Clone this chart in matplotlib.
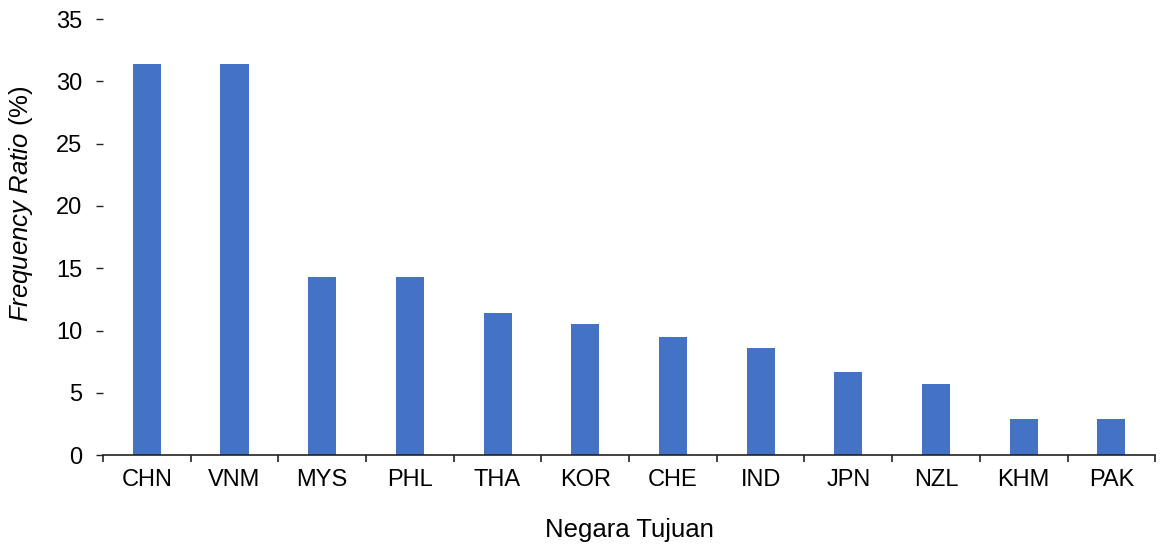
import matplotlib.pyplot as plt
import numpy as np

countries = ["CHN", "VNM", "MYS", "PHL", "THA", "KOR", "CHE", "IND", "JPN", "NZL", "KHM", "PAK"]
freq_ratio = [31.4, 31.4, 14.3, 14.3, 11.4, 10.5, 9.5, 8.6, 6.7, 5.7, 2.9, 2.9]

plt.rcParams['font.family'] = ['Liberation Sans', 'DejaVu Sans']
plt.rcParams['mathtext.fontset'] = 'custom'
plt.rcParams['mathtext.rm'] = 'Liberation Sans'
plt.rcParams['mathtext.it'] = 'Liberation Sans:italic'

fig = plt.figure(figsize=(11.61, 5.47), dpi=100)
ax = fig.add_axes([0.0887, 0.168, 0.9063, 0.797])

x = np.arange(len(countries))
ax.bar(x, freq_ratio, width=0.32, color="#4472C4")

ax.set_xlim(-0.5, len(countries) - 0.5)
ax.set_ylim(0, 35)
ax.set_yticks(range(0, 36, 5))
ax.set_xticks(x)
ax.set_xticklabels(countries)
ax.set_xticks(np.arange(-0.5, len(countries), 1), minor=True)

for s in ["top", "right", "left"]:
    ax.spines[s].set_visible(False)
ax.spines["bottom"].set_color("#222222")
ax.spines["bottom"].set_linewidth(1.2)

ax.tick_params(axis="x", which="major", length=0, pad=10, labelsize=17)
ax.tick_params(axis="x", which="minor", length=5, width=1.2, color="#222222")
ax.tick_params(axis="y", length=5, width=1, pad=10, labelsize=17, color="#222222")

ax.set_ylabel(r"$\it{Frequency\ Ratio}$ (%)", fontsize=18.5)
ax.yaxis.set_label_coords(-0.078, 0.576)
ax.yaxis.label.set_va("center")
ax.set_xlabel("Negara Tujuan", fontsize=18.5)
ax.xaxis.set_label_coords(0.5, -0.172)
ax.xaxis.label.set_va("center")

plt.savefig("out.png")
